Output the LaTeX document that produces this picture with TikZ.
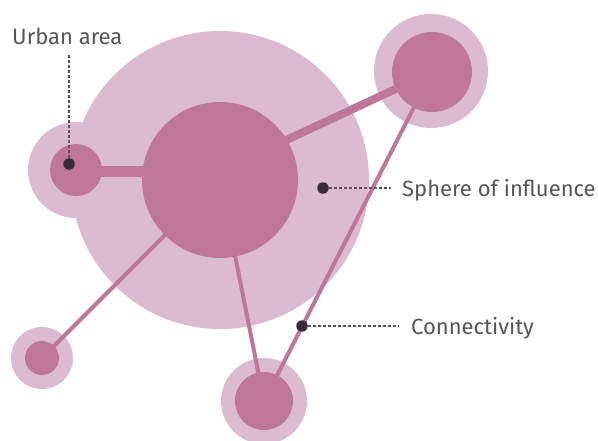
\documentclass[tikz,border=0pt]{standalone}
\usepackage{fontspec}
\setmainfont{Fira Sans}
\definecolor{lightp}{HTML}{DCBBD0}
\definecolor{darkp}{HTML}{BE7699}
\definecolor{dotc}{HTML}{3B2B36}
\definecolor{txt}{HTML}{555555}
\begin{document}
\begin{tikzpicture}[x=1pt,y=-1pt,
  halo/.style={circle,fill=lightp,inner sep=0pt,minimum size=#1},
  core/.style={circle,fill=darkp,inner sep=0pt,minimum size=#1},
  link/.style={darkp,line width=#1},
  marker/.style={circle,fill=dotc,inner sep=0pt,minimum size=11.5pt},
  leader/.style={txt,line width=1.5pt,dash pattern=on 3pt off 2pt},
  lbl/.style={text=txt,font=\fontsize{22}{26}\selectfont,inner sep=0pt}]
\useasboundingbox (0,0) rectangle (598,440);
\begin{scope}
\clip (0,0) rectangle (598,440);
% halos
\node[halo=298pt] (bigH) at (220,180) {};
\node[halo=96pt] (uaH) at (76,170) {};
\node[halo=114pt] (trH) at (431,71) {};
\node[halo=62pt] (blH) at (42,358) {};
\node[halo=86pt] (bH) at (264,401) {};
% core positions
\coordinate (big) at (220,180);
\coordinate (bigU) at (220,171);
\coordinate (ua) at (76,171);
\coordinate (tr) at (432,72);
\coordinate (bl) at (42,358);
\coordinate (bt) at (264,401);
% links
\draw[link=11pt] (bigU) -- (ua);
\draw[link=8pt] (bigU) -- (tr);
\draw[link=4pt] (big) -- (bl);
\draw[link=4pt] (big) -- (bt);
\draw[link=4pt] (tr) -- (bt);
% cores
\node[core=156pt] (bigC) at (big) {};
\node[core=52pt] (uaC) at (76,170) {};
\node[core=80pt] (trC) at (tr) {};
\node[core=34pt] (blC) at (bl) {};
\node[core=58pt] (btC) at (bt) {};
\end{scope}
% markers and labels
\node[marker] (m1) at (69,164) {};
\node[marker] (m2) at (323,188) {};
\node[marker] (m3) at (302,326) {};
\node[lbl,anchor=base west] (l1) at (12,44) {Urban area};
\node[lbl,anchor=base west] (l2) at (402,196) {Sphere of influence};
\node[lbl,anchor=base west] (l3) at (411,334) {Connectivity};
\coordinate (e1) at (69,55);
\coordinate (e2) at (391,188);
\coordinate (e3) at (398,326);
\draw[leader] (m1) -- (e1);
\draw[leader] (m2) -- (e2);
\draw[leader] (m3) -- (e3);
\end{tikzpicture}
\end{document}
